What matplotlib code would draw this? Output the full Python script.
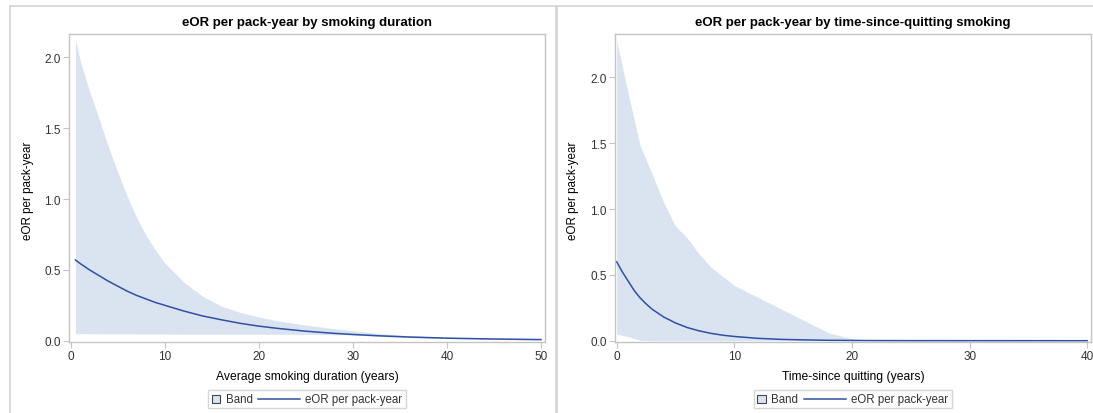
import matplotlib
matplotlib.use("Agg")
import matplotlib.pyplot as plt
from matplotlib.lines import Line2D
from matplotlib.patches import Rectangle
from matplotlib.offsetbox import AnchoredOffsetbox, HPacker, DrawingArea, TextArea

plt.rcParams['font.family'] = ['Liberation Sans', 'DejaVu Sans']

# ---- data: smoking duration panel ----
dur_x = [0.5, 1, 2, 3, 4, 5, 6, 7, 8, 9, 10, 12, 14, 16, 18, 20, 22, 25, 28, 30, 33, 36, 40, 45, 50]
dur_eor = [0.57, 0.545, 0.50, 0.46, 0.42, 0.385, 0.35, 0.32, 0.295, 0.27, 0.25, 0.21, 0.175,
           0.148, 0.123, 0.103, 0.087, 0.067, 0.052, 0.044, 0.034, 0.026, 0.018, 0.012, 0.008]
dur_upper = [2.13, 1.98, 1.76, 1.57, 1.37, 1.19, 1.02, 0.87, 0.745, 0.64, 0.55, 0.415, 0.315,
             0.245, 0.20, 0.168, 0.14, 0.11, 0.085, 0.07, 0.05, 0.035, 0.024, 0.014, 0.009]
dur_lower = [0.05, 0.05, 0.049, 0.049, 0.048, 0.048, 0.048, 0.047, 0.047, 0.047, 0.047, 0.046,
             0.046, 0.046, 0.046, 0.045, 0.045, 0.045, 0.042, 0.04, 0.03, 0.022, 0.015, 0.009, 0.006]

# ---- data: time-since-quitting panel ----
tsq_x = [0, 1, 2, 3, 4, 5, 6, 7, 8, 9, 10, 12, 14, 16, 18, 20, 22, 25, 30, 35, 40]
tsq_upper = [2.28, 1.87, 1.48, 1.27, 1.05, 0.87, 0.78, 0.66, 0.56, 0.49, 0.42, 0.33, 0.24,
             0.15, 0.06, 0.015, 0.003, 0.001, 0.0005, 0.0002, 0.0001]
tsq_lower = [0.05, 0.03, 0.003, 0, 0, 0, 0, 0, 0, 0, 0, 0, 0, 0, 0, 0, 0, 0, 0, 0, 0]
tsq_line_x = [0, 0.5, 1, 1.5, 2, 2.5, 3, 3.5, 4, 5, 6, 7, 8, 9, 10, 12, 14, 16, 18, 20, 22, 25, 30, 35, 40]
tsq_eor = [0.60, 0.52, 0.45, 0.38, 0.325, 0.28, 0.24, 0.21, 0.18, 0.135, 0.10, 0.075, 0.056,
           0.042, 0.032, 0.018, 0.010, 0.006, 0.003, 0.002, 0.001, 0.0005, 0.0002, 0.0001, 0.0]

titles = ["eOR per pack-year by smoking duration", "eOR per pack-year by time-since-quitting smoking"]
xlabels = ["Average smoking duration (years)", "Time-since quitting (years)"]
ylabel = "eOR per pack-year"
xticks = [[0, 10, 20, 30, 40, 50], [0, 10, 20, 30, 40]]
yticks = [0.0, 0.5, 1.0, 1.5, 2.0]
legend_labels = ["Band", "eOR per pack-year"]

BAND = '#dae4f1'
LINE = '#2e50a5'
FRAME = '#c4c4c4'
TXT = '#333333'

W, H = 1093, 414
fig = plt.figure(figsize=(W / 100, H / 100), dpi=100)

def fx(px):
    return px / W

def fy(py):
    return 1 - py / H

panels = [
    dict(left=69.3, right=545, bx=dur_x, up=dur_upper, lo=dur_lower, lx=dur_x, ys=dur_eor,
         xlim=(-0.15, 50.43), ylim=(-0.007, 2.165), ylab_x=28),
    dict(left=615, right=1090.7, bx=tsq_x, up=tsq_upper, lo=tsq_lower, lx=tsq_line_x, ys=tsq_eor,
         xlim=(-0.14, 40.29), ylim=(-0.0076, 2.33), ylab_x=573),
]
top, bottom = 35, 342.7

for i, p in enumerate(panels):
    ax = fig.add_axes([fx(p['left']), fy(bottom), fx(p['right'] - p['left']), (bottom - top) / H])
    ax.fill_between(p['bx'], p['lo'], p['up'], color=BAND, linewidth=0)
    ax.plot(p['lx'], p['ys'], color=LINE, linewidth=1.1)
    ax.set_xlim(*p['xlim'])
    ax.set_ylim(*p['ylim'])
    ax.set_xticks(xticks[i])
    ax.set_yticks(yticks)
    ax.set_yticklabels([f"{v:.1f}" for v in yticks])
    for s in ax.spines.values():
        s.set_color(FRAME)
        s.set_linewidth(1.0)
    ax.tick_params(axis='both', colors=FRAME, labelcolor=TXT, labelsize=8.5, length=4, width=0.8, pad=2)
    cx = (p['left'] + p['right']) / 2
    fig.text(fx(cx), fy(23), titles[i], ha='center', va='center', fontsize=9.5, fontweight='bold', color='black')
    fig.text(fx(cx), fy(377), xlabels[i], ha='center', va='center', fontsize=8.7, color='black')
    fig.text(fx(p['ylab_x']), fy(191), ylabel, ha='center', va='center', rotation=90, fontsize=8.4, color='black')

    # legend
    sq = DrawingArea(6, 6, 0, 0)
    sq.add_artist(Rectangle((0, 0), 6, 6, facecolor=BAND, edgecolor='#444444', linewidth=0.8))
    ln = DrawingArea(30, 6, 0, 0)
    ln.add_artist(Line2D([0, 30], [3, 3], color=LINE, linewidth=1.1))
    t1 = TextArea(legend_labels[0], textprops=dict(fontsize=8.3, color=TXT))
    t2 = TextArea(legend_labels[1], textprops=dict(fontsize=8.3, color=TXT))
    box = HPacker(children=[sq, t1, ln, t2], align='center', pad=0, sep=4)
    anch = AnchoredOffsetbox(loc='center', child=box, pad=0.25, borderpad=0, frameon=True,
                             bbox_to_anchor=(fx(cx), fy(400)), bbox_transform=fig.transFigure)
    anch.patch.set_edgecolor('#d6d6d6')
    anch.patch.set_linewidth(1.0)
    anch.patch.set_boxstyle('square', pad=0)
    fig.add_artist(anch)

# panel borders
GR = '#d3d3d3'
fig.add_artist(Line2D([fx(10), fx(W)], [fy(7), fy(7)], color=GR, linewidth=1.2))
fig.add_artist(Line2D([fx(10), fx(10)], [fy(7), fy(H)], color=GR, linewidth=1.2))
fig.add_artist(Line2D([fx(556), fx(556)], [fy(7), fy(H)], color=GR, linewidth=1.8))

fig.savefig('out.png', dpi=100)
